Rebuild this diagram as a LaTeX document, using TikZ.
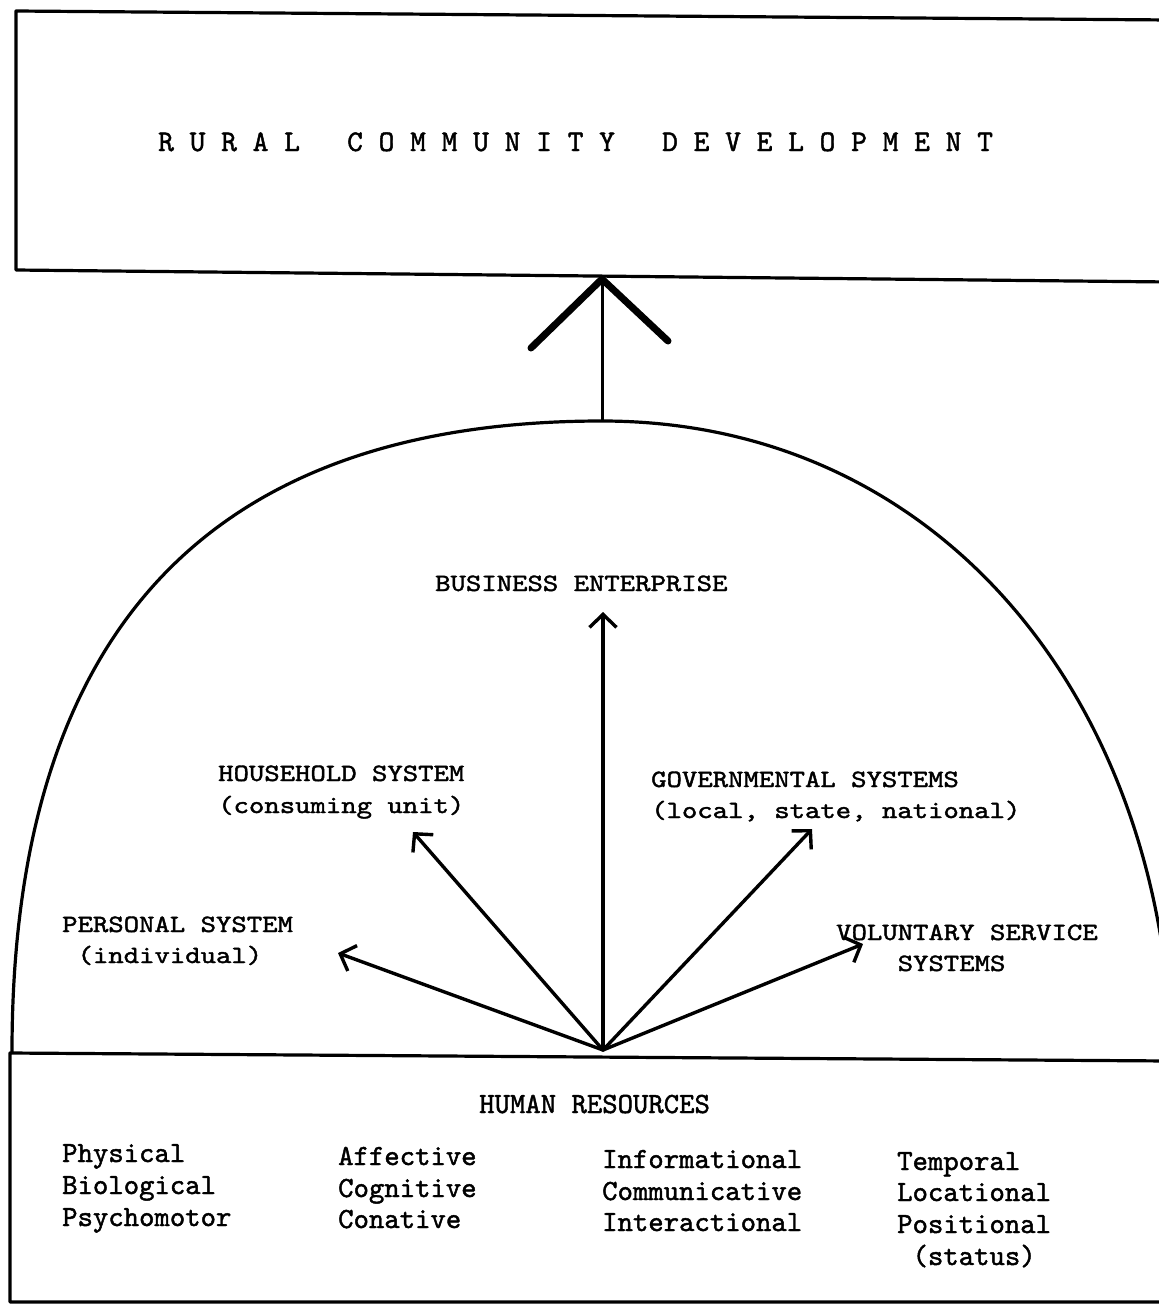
\documentclass[tikz,border=0pt]{standalone}
\usepackage{fontspec}
\usepackage{graphicx}
\usetikzlibrary{arrows.meta}
% typewriter lettering: a heavier Latin Modern Mono
\newfontfamily\monoheavy[FakeBold=1.5]{lmmono10-regular.otf}
\newcommand{\typewriter}{\monoheavy\fontsize{29.3}{34}\selectfont}
\newcommand{\titleface}{\monoheavy\fontsize{30}{34}\selectfont}
% the upper captions use a lower, rounder face
\newcommand{\shortface}[1]{\scalebox{1}[0.85]{#1}}
\begin{document}
\begin{tikzpicture}[x=1pt,y=-1pt,
  frame/.style={line width=3.2pt, line cap=round, line join=round},
  lbl/.style={anchor=base west, inner sep=0pt, font=\typewriter},
  fan/.style={line width=3.4pt, line cap=round,
    -{Straight Barb[length=13pt,width=27pt,line width=3.4pt]}},
  headstroke/.style={line width=7pt, line cap=round, line join=round},
  ]
\useasboundingbox (0,0) rectangle (1159,1304);
\clip (0,0) rectangle (1159,1304);

% ---- goal box -------------------------------------------------------
\coordinate (gTL) at (16,11);
\coordinate (gTR) at (1170,20);
\coordinate (gBL) at (16,270);
\coordinate (gBR) at (1170,282);
\draw[frame] (gTR) -- (gTL) -- (gBL) -- (gBR);
\node[lbl, font=\titleface] (goal) at (158,151)
  {R~U~R~A~L~~~C~O~M~M~U~N~I~T~Y~~~D~E~V~E~L~O~P~M~E~N~T};

% ---- dome of systems ------------------------------------------------
\coordinate (domeL) at (12,1052);
\coordinate (domeTop) at (602,421);
\coordinate (domeR) at (1172,1060);
\draw[frame] (domeL) .. controls (12,620) and (220,421) .. (domeTop)
                     .. controls (940,421) and (1165,700) .. (domeR);

% ---- upward link to the goal -----------------------------------------
\coordinate (goalIn) at (602,279);
\coordinate (barbL) at (531,348);
\coordinate (barbR) at (668,341);
\draw[line width=3pt] (domeTop) -- (goalIn);
\draw[headstroke] (barbL) -- (goalIn) -- (barbR);

% ---- resources box ----------------------------------------------------
\coordinate (rTL) at (10,1053);
\coordinate (rTR) at (1170,1061);
\coordinate (rBL) at (10,1302);
\coordinate (rBR) at (1170,1302);
\draw[frame] (rTR) -- (rTL) -- (rBL) -- (rBR);

% ---- fan of arrows from the resources -------------------------------
\coordinate (hr) at (603,1050);
\coordinate (tipPer) at (338,953);
\coordinate (tipHh) at (413,832);
\coordinate (tipBe) at (603,612);
\coordinate (tipGov) at (812,829);
\coordinate (tipVol) at (863,944);
\foreach \t in {tipPer,tipHh,tipBe,tipGov,tipVol}
  \draw[fan] (hr) -- (\t);

% ---- system labels ----------------------------------------------------
\node[lbl] (be)   at (435,591) {\shortface{BUSINESS ENTERPRISE}};
\node[lbl] (hh1)  at (218,781) {\shortface{HOUSEHOLD SYSTEM}};
\node[lbl] (hh2)  at (218,813) {\shortface{(consuming unit)}};
\node[lbl] (gov1) at (651,787) {\shortface{GOVERNMENTAL SYSTEMS}};
\node[lbl] (gov2) at (651,818) {\shortface{(local, state, national)}};
\node[lbl] (per1) at (62,932)  {\shortface{PERSONAL SYSTEM}};
\node[lbl] (per2) at (62,963)  {\shortface{~(individual)}};
\node[lbl] (vol1) at (836,940) {\shortface{VOLUNTARY SERVICE}};
\node[lbl] (vol2) at (836,971) {\shortface{~~~~SYSTEMS}};

% ---- human resources ----------------------------------------------------
\node[lbl] (hrt) at (479,1113) {HUMAN RESOURCES};
\node[lbl] (c1a) at (62,1162)  {Physical};
\node[lbl] (c1b) at (62,1194)  {Biological};
\node[lbl] (c1c) at (62,1226)  {Psychomotor};
\node[lbl] (c2a) at (338,1165) {Affective};
\node[lbl] (c2b) at (338,1197) {Cognitive};
\node[lbl] (c2c) at (338,1228) {Conative};
\node[lbl] (c3a) at (602,1168) {Informational};
\node[lbl] (c3b) at (602,1200) {Communicative};
\node[lbl] (c3c) at (602,1231) {Interactional};
\node[lbl] (c4a) at (897,1170) {Temporal};
\node[lbl] (c4b) at (897,1201) {Locational};
\node[lbl] (c4c) at (897,1233) {Positional};
\node[lbl] (c4d) at (897,1265) {~(status)};
\end{tikzpicture}
\end{document}
